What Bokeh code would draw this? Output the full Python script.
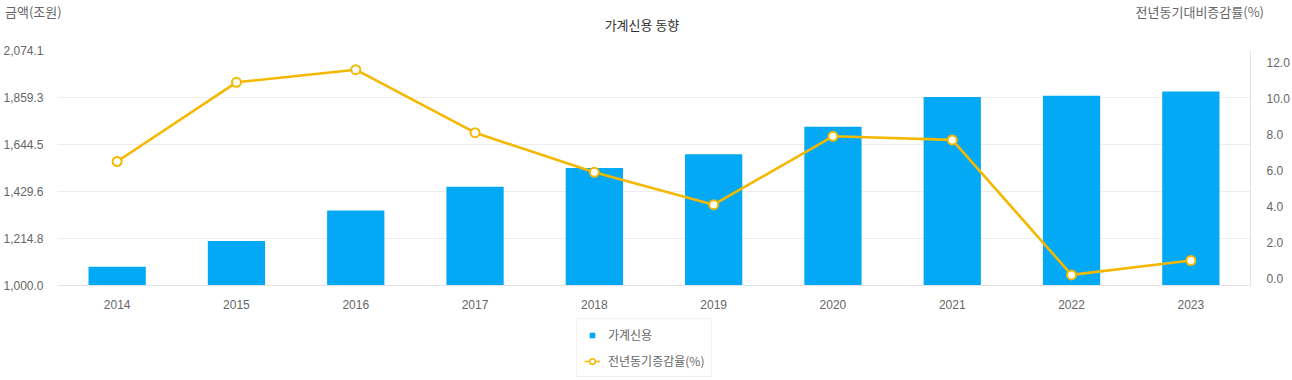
from bokeh.plotting import figure
from bokeh.models import (Range1d, LinearAxis, FixedTicker, NumeralTickFormatter,
                          Legend, LegendItem, ColumnDataSource, FactorRange, Div)
from bokeh.layouts import column
from bokeh.embed import file_html
from bokeh.resources import INLINE

# ---- data ----
years = ["2014", "2015", "2016", "2017", "2018", "2019", "2020", "2021", "2022", "2023"]
credit = [1085.3, 1203.1, 1342.5, 1450.9, 1536.7, 1600.3, 1726.1, 1862.1, 1867.0, 1886.4]
growth = [6.5, 10.9, 11.6, 8.1, 5.9, 4.1, 7.9, 7.7, 0.2, 1.0]
left_ticks = [1000.0, 1214.82, 1429.64, 1644.46, 1859.28, 2074.1]
right_ticks = [0.0, 2.0, 4.0, 6.0, 8.0, 10.0, 12.0]
title_text = "가계신용 동향"
left_title = "금액(조원)"
right_title = "전년동기대비증감률(%)"
bar_name = "가계신용"
line_name = "전년동기증감율(%)"

BAR = "#03A9F4"
LINE = "#F5B800"
GREY = "#666666"
KR = "Noto Sans CJK KR"
NUM = "Liberation Sans"

W = 1276
TOP_H = 30

header = Div(width=W, height=TOP_H, text=(
    f'<div style="position:relative;width:{W}px;height:{TOP_H}px;'
    f'font-family:\'{KR}\',sans-serif;">'
    f'<span style="position:absolute;left:0px;top:0px;font-size:13px;line-height:14px;'
    f'color:{GREY};white-space:nowrap;">{left_title}</span>'
    f'<span style="position:absolute;right:17px;top:0px;font-size:13px;line-height:14px;'
    f'color:{GREY};white-space:nowrap;">{right_title}</span>'
    f'<span style="position:absolute;left:537px;width:200px;top:11px;text-align:center;'
    f'font-size:13px;line-height:18px;color:#333333;white-space:nowrap;">{title_text}</span>'
    '</div>'))

p = figure(frame_width=1193, frame_height=235, output_backend="svg", toolbar_location=None,
           x_range=FactorRange(factors=years, range_padding=0),
           y_range=Range1d(left_ticks[0], left_ticks[-1]),
           min_border_left=50, min_border_right=33, min_border_top=10, min_border_bottom=26)
p.extra_y_ranges = {"pct": Range1d(-0.389, 12.667)}
p.outline_line_color = None
p.background_fill_color = "white"
p.border_fill_color = "white"

src = ColumnDataSource(dict(year=years, credit=credit, growth=growth))

p.vbar(x="year", top="credit", bottom=left_ticks[0], width=0.48, source=src,
       fill_color=BAR, line_color=None)
p.line(x="year", y="growth", source=src, line_color=LINE, line_width=2.6,
       y_range_name="pct")
p.scatter(x="year", y="growth", source=src, y_range_name="pct", marker="circle",
          size=9, fill_color="white", line_color=LINE, line_width=2)

# axes
xa = p.xaxis[0]
xa.axis_line_color = "#e3e3e3"
xa.major_tick_line_color = None
xa.minor_tick_line_color = None
xa.major_label_standoff = 8
xa.major_label_text_color = GREY
xa.major_label_text_font = NUM
xa.major_label_text_font_size = "12px"

ya = p.yaxis[0]
ya.ticker = FixedTicker(ticks=left_ticks)
ya.formatter = NumeralTickFormatter(format="0,0.0")
ya.axis_line_color = None
ya.major_tick_line_color = None
ya.minor_tick_line_color = None
ya.major_label_standoff = 8
ya.major_label_text_color = GREY
ya.major_label_text_font = NUM
ya.major_label_text_font_size = "12px"

ra = LinearAxis(y_range_name="pct", ticker=FixedTicker(ticks=right_ticks),
                formatter=NumeralTickFormatter(format="0.0"))
ra.axis_line_color = "#e3e3e3"
ra.major_tick_line_color = None
ra.minor_tick_line_color = None
ra.major_label_standoff = 10
ra.major_label_text_color = GREY
ra.major_label_text_font = NUM
ra.major_label_text_font_size = "12px"
p.add_layout(ra, "right")

p.xgrid.grid_line_color = None
p.ygrid.grid_line_color = "#ededed"
p.ygrid.ticker = FixedTicker(ticks=left_ticks)

# ---- legend strip (separate small figure; proxies sit outside its visible range) ----
LEG_H = 66
q = figure(width=W, height=LEG_H, output_backend="svg", toolbar_location=None,
           x_range=Range1d(0, 1), y_range=Range1d(0, 1),
           x_axis_location=None, y_axis_location=None, min_border=0)
q.outline_line_color = None
q.background_fill_color = "white"
q.border_fill_color = "white"
q.grid.visible = False
hid = ColumnDataSource(dict(x=[-5.0], y=[-5.0]))
sq = q.scatter(x="x", y="y", source=hid, marker="square", size=10,
               fill_color=BAR, line_color=None)
lq = q.line(x="x", y="y", source=hid, line_color=LINE, line_width=1.5)
cq = q.scatter(x="x", y="y", source=hid, marker="circle", size=9, fill_color="white",
               line_color=LINE, line_width=1.5)

legend = Legend(items=[LegendItem(label=bar_name, renderers=[sq]),
                       LegendItem(label=line_name, renderers=[lq, cq])],
                location=(519, 0), orientation="vertical",
                glyph_width=16, glyph_height=14, label_height=14, label_standoff=8,
                spacing=9, padding=7, margin=0,
                label_text_font=KR, label_text_font_size="12px", label_text_color=GREY,
                border_line_color="#e3e3e3", border_line_width=1,
                background_fill_color="white", background_fill_alpha=1)
q.add_layout(legend, "center")

layout = column(header, p, q, spacing=0)
open("out.html", "w").write(file_html(layout, INLINE))
